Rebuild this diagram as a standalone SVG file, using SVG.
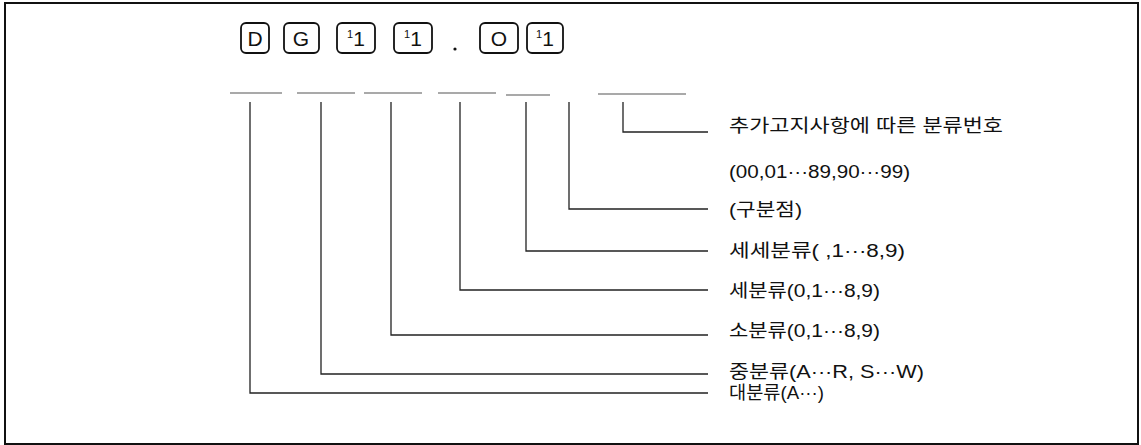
<svg xmlns="http://www.w3.org/2000/svg" width="1141" height="445" viewBox="0 0 1141 445">
<style>
.box{fill:none;stroke:#111;stroke-width:1.8}
.bt{font-family:"Liberation Sans",Arial,sans-serif;font-size:21px;fill:#111;text-anchor:middle}
.sup{font-size:11px}
.ln{fill:none;stroke:#222;stroke-width:1.3}
.ul{fill:none;stroke:#555;stroke-width:1.2}
.lb{font-family:"Liberation Sans","Noto Sans CJK KR",sans-serif;font-size:18px;fill:#111}
</style>
<rect x="5" y="3" width="1133" height="441" fill="#fff" stroke="#111" stroke-width="2"/>
<g id="box-d"><rect class="box" x="241" y="23" width="28" height="30" rx="5"/><text class="bt" x="255" y="46">D</text></g>
<g id="box-g"><rect class="box" x="284" y="23" width="35" height="30" rx="5"/><text class="bt" x="301" y="46">G</text></g>
<g id="box-1a"><rect class="box" x="337" y="23" width="38" height="30" rx="5"/><text class="bt" x="356" y="46"><tspan class="sup" dy="-8">1</tspan><tspan dy="8">1</tspan></text></g>
<g id="box-1b"><rect class="box" x="394" y="23" width="38" height="30" rx="5"/><text class="bt" x="413" y="46"><tspan class="sup" dy="-8">1</tspan><tspan dy="8">1</tspan></text></g>
<g id="dot"><circle cx="455" cy="49" r="1.6" fill="#111"/></g>
<g id="box-o"><rect class="box" x="480" y="23" width="38" height="30" rx="5"/><text class="bt" x="499" y="46">O</text></g>
<g id="box-1c"><rect class="box" x="527" y="23" width="36" height="30" rx="5"/><text class="bt" x="545" y="46"><tspan class="sup" dy="-8">1</tspan><tspan dy="8">1</tspan></text></g>
<g id="underlines">
<line class="ul" x1="230" y1="93" x2="282" y2="93"/>
<line class="ul" x1="297" y1="93" x2="355" y2="93"/>
<line class="ul" x1="364" y1="93" x2="422" y2="93"/>
<line class="ul" x1="438" y1="93" x2="496" y2="93"/>
<line class="ul" x1="506" y1="95" x2="550" y2="95"/>
<line class="ul" x1="598" y1="94" x2="686" y2="94"/>
</g>
<g id="connectors">
<polyline class="ln" points="623,102 623,132 708,132"/>
<polyline class="ln" points="569,102 569,209 708,209"/>
<polyline class="ln" points="526,102 526,251 708,251"/>
<polyline class="ln" points="460,102 460,290 708,290"/>
<polyline class="ln" points="391,102 391,335 708,335"/>
<polyline class="ln" points="321,102 321,374 708,374"/>
<polyline class="ln" points="250,102 250,393 708,393"/>
</g>
<g id="label-extra"><text class="lb" x="729" y="132" textLength="274" lengthAdjust="spacingAndGlyphs">추가고지사항에 따른 분류번호</text></g>
<g id="label-range"><text class="lb" x="729" y="178" textLength="181" lengthAdjust="spacingAndGlyphs">(00,01···89,90···99)</text></g>
<g id="label-sep"><text class="lb" x="729" y="216" textLength="73" lengthAdjust="spacingAndGlyphs">(구분점)</text></g>
<g id="label-sese"><text class="lb" x="729" y="257" textLength="176" lengthAdjust="spacingAndGlyphs">세세분류(  ,1···8,9)</text></g>
<g id="label-se"><text class="lb" x="729" y="297" textLength="151" lengthAdjust="spacingAndGlyphs">세분류(0,1···8,9)</text></g>
<g id="label-so"><text class="lb" x="729" y="337" textLength="151" lengthAdjust="spacingAndGlyphs">소분류(0,1···8,9)</text></g>
<g id="label-jung"><text class="lb" x="729" y="378" textLength="195" lengthAdjust="spacingAndGlyphs">중분류(A···R, S···W)</text></g>
<g id="label-dae"><text class="lb" x="729" y="399" textLength="95" lengthAdjust="spacingAndGlyphs">대분류(A···)</text></g>
</svg>
